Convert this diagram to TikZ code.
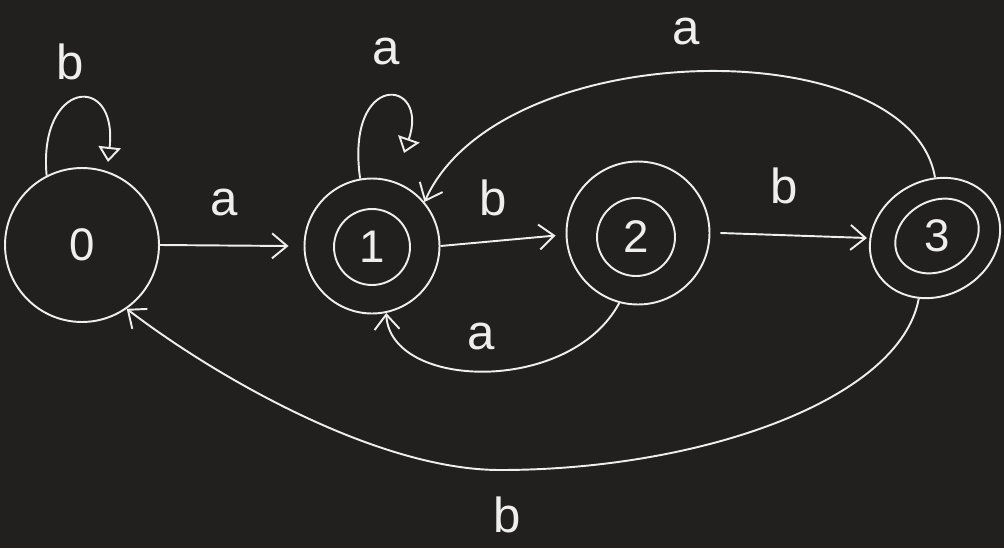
\documentclass[tikz,border=0pt]{standalone}
\usepackage{fontspec}
\setmainfont{Liberation Sans}
\usepackage{tikz}
\usetikzlibrary{shapes.geometric, arrows.meta, positioning}
\definecolor{boardbg}{RGB}{33,32,31}
\definecolor{chalk}{RGB}{238,238,236}

\begin{document}
\begin{tikzpicture}[
  x=0.02cm, y=-0.02cm,
  ring/.style={circle, draw=chalk, line width=1.1pt, inner sep=0pt},
  oval/.style={ellipse, draw=chalk, line width=1.1pt, inner sep=0pt, rotate=30},
  digit/.style={text=chalk, font=\fontsize{26}{30}\selectfont},
  lbl/.style={text=chalk, font=\fontsize{28}{32}\selectfont},
  edge/.style={-{Straight Barb[length=3mm, width=5mm]}, chalk, line width=1.1pt},
  loop/.style={-{Triangle[open, length=3mm, width=4.5mm]}, chalk, line width=1.1pt},
]

% Board
\fill[boardbg] (0,0) rectangle (1004,548);
\useasboundingbox (0,0) rectangle (1004,548);

% States
\node[ring, minimum size=3.08cm] (s0) at (82,245) {};
\node[digit] (t0) at (s0) {0};

\node[ring, minimum size=2.7cm] (s1) at (372,246) {};
\node[ring, minimum size=1.52cm, digit] (s1in) at (372,247) {1};

\node[ring, minimum size=2.86cm] (s2) at (638,233) {};
\node[ring, minimum size=1.56cm, digit] (s2in) at (636,237) {2};

\node[oval, minimum width=2.7cm, minimum height=2.3cm] (s3) at (935,238) {};
\node[oval, minimum width=1.75cm, minimum height=1.4cm] (s3in) at (937,236) {};
\node[digit] (t3) at (s3in) {3};

% Self loops
\draw[loop] (s0.117) .. controls (38,80) and (118,72) .. (108,162)
  node[lbl, pos=0.5, above=2.5mm, xshift=-1.5mm] {b};
\draw[loop] (s1.100) .. controls (345,70) and (430,78) .. (404,153)
  node[lbl, pos=0.5, above=5mm] {a};

% Transitions
\draw[edge] (s0.east) -- node[lbl, above=4.5mm] {a} ([xshift=-0.3cm]s1.west);
\draw[edge] (s1.east) -- node[lbl, above=3.5mm, xshift=-1mm] {b} ([xshift=-0.2cm]s2.182);
\draw[edge] ([xshift=0.2cm]s2.east) -- node[lbl, above=5mm, xshift=-2mm] {b} ([xshift=-0.05cm]s3.150);
\draw[edge] (s3.60) .. controls (910,30) and (500,34) .. (s1.40)
  node[lbl, pos=0.5, above=4mm, xshift=-2.5mm] {a};
\draw[edge] (s2.-105) .. controls (570,395) and (390,390) .. (s1.-78)
  node[lbl, pos=0.5, above=3mm, xshift=-1mm] {a};
\draw[edge] (s3.-135) .. controls (900,400) and (700,470) .. (500,470)
  node[lbl, below=4mm, xshift=1.5mm] {b}
  .. controls (380,470) and (220,380) .. (s0.-55);

\end{tikzpicture}
\end{document}
